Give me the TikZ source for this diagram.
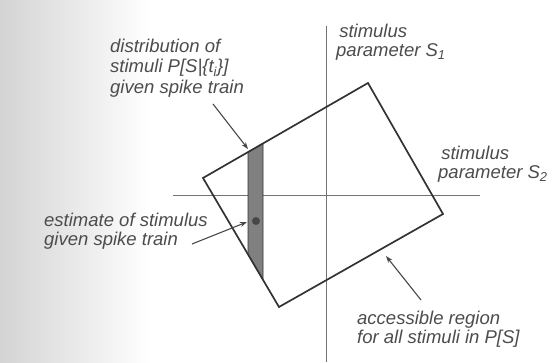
\documentclass[tikz,border=0pt]{standalone}
\usepackage{fontspec}
\setmainfont{Liberation Sans}
\usetikzlibrary{arrows.meta}
\definecolor{ink}{gray}{0.2}
\definecolor{txt}{gray}{0.3}
\tikzset{
  lbl/.style={inner sep=0pt, align=left, anchor=west, text=txt,
    font=\fontsize{18.5}{19}\selectfont\itshape},
  box/.style={draw=ink, line width=1.7pt, line join=miter},
  axis/.style={draw=black!55, line width=1pt},
  pointer/.style={draw=ink!90, line width=1.1pt, -{Stealth[length=7pt,width=5pt]}}
}
\begin{document}
\begin{tikzpicture}[x=1pt,y=-1pt]
\useasboundingbox (0,0) rectangle (555,363);
\fill[white] (0,0) rectangle (555,363);
\shade[left color=black!17, right color=white] (0,0) rectangle (150,363);
% axes
\coordinate (vt) at (326,26);
\coordinate (vb) at (326,362);
\coordinate (hl) at (173,196);
\coordinate (hr) at (480,196);
\draw[axis] (vt) -- (vb);
\draw[axis] (hl) -- (hr);
% strip
\coordinate (s1) at (248,152.1);
\coordinate (s2) at (263,143.5);
\coordinate (s3) at (263,279.8);
\coordinate (s4) at (248,254.4);
\filldraw[fill=black!50, draw=ink, line width=0.9pt] (s1) -- (s2) -- (s3) -- (s4) -- cycle;
\node[circle, fill=black!72, inner sep=0pt, minimum size=8pt] (dot) at (256,221) {};
% accessible region
\coordinate (L) at (203,178);
\coordinate (T) at (368,83);
\coordinate (R) at (443,214);
\coordinate (B) at (279,307);
\draw[box] (L) -- (T) -- (R) -- (B) -- cycle;
% labels
\node[lbl, font=\fontsize{18.5}{20.5}\selectfont\itshape] (dist) at (110,68) {distribution of\\stimuli P[S|\{t\textsubscript{i}\}]\\given spike train};
\node[lbl] (sone) at (336,42) {\,stimulus\\parameter S\textsubscript{1}};
\node[lbl] (stwo) at (438,164) {\,stimulus\\parameter S\textsubscript{2}};
\node[lbl] (est) at (44,231.5) {estimate of stimulus\\given spike train};
\node[lbl] (acc) at (357,329) {accessible region\\for all stimuli in P[S]};
% pointers
\coordinate (a1s) at (213,104);
\coordinate (a1e) at (248,149);
\coordinate (a2s) at (192,244);
\coordinate (a2e) at (247,222);
\coordinate (a3s) at (421,300);
\coordinate (a3e) at (386,256);
\draw[pointer] (a1s) -- (a1e);
\draw[pointer] (a2s) -- (a2e);
\draw[pointer] (a3s) -- (a3e);
\end{tikzpicture}
\end{document}
